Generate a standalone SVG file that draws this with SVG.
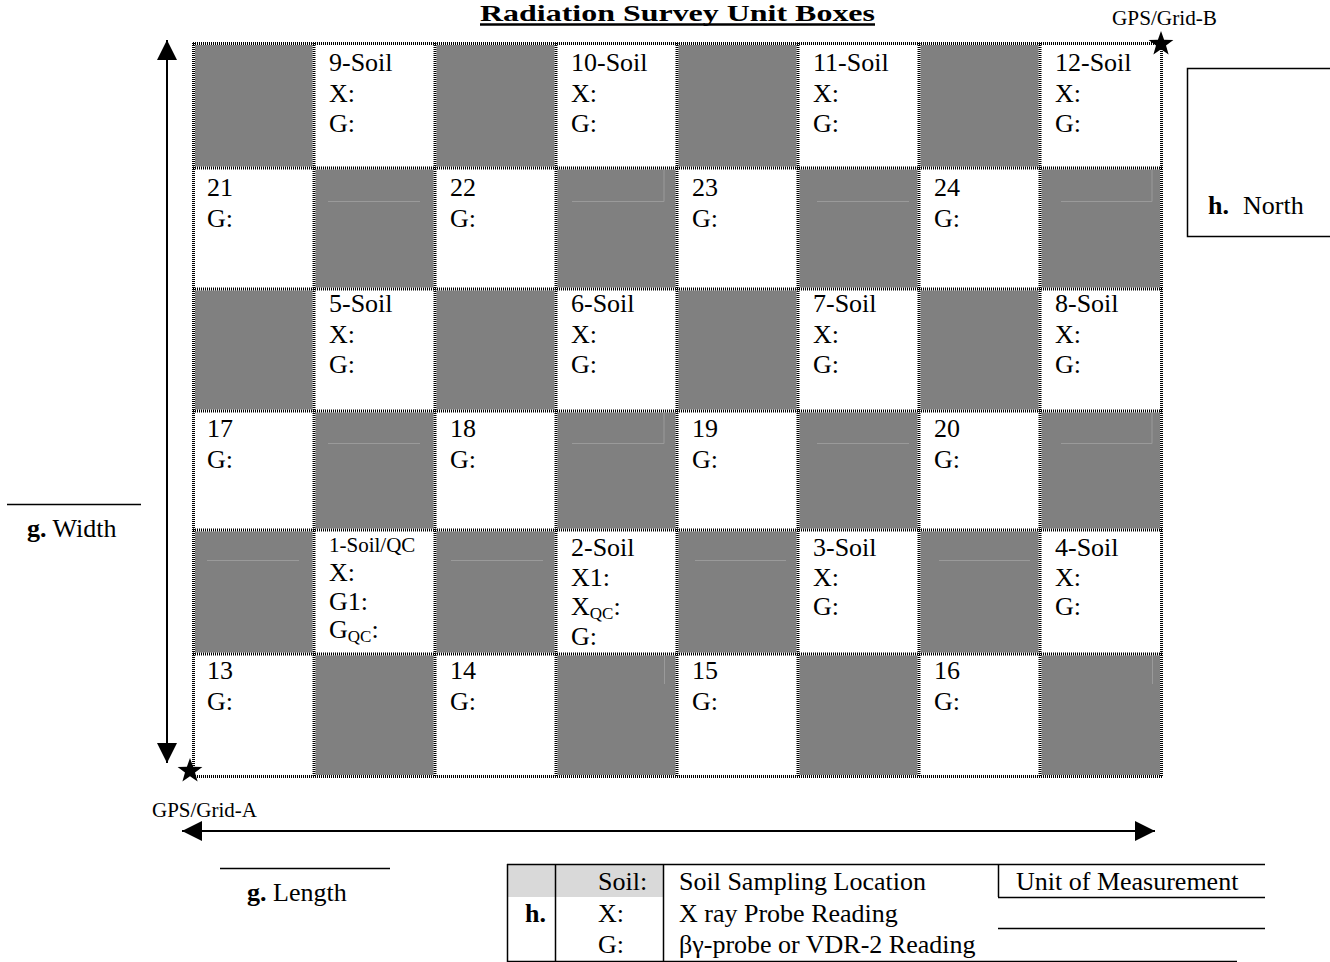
<svg xmlns="http://www.w3.org/2000/svg" width="1330" height="962" viewBox="0 0 1330 962">
<style>
text{font-family:"Liberation Serif","Times New Roman",serif;fill:#000}
.c{font-size:26px}
.sm{font-size:21px}
.sub{font-size:17px}
.lg{font-size:26px}
.b{font-weight:bold}
.gray{fill:#808080}
.art{stroke:#9a9a9a;stroke-width:1;fill:none}
.gridw{stroke:#fff;stroke-width:3;fill:none}
.gridd{stroke:#000;stroke-width:3;fill:none;stroke-dasharray:1 1}
.ln{stroke:#000;stroke-width:2;fill:none}
.thin{stroke:#000;stroke-width:1.5;fill:none}
</style>
<defs>
<marker id="ah" viewBox="0 0 20 20" refX="20" refY="10" markerWidth="20" markerHeight="20" markerUnits="userSpaceOnUse" orient="auto-start-reverse">
<path d="M0,0 L20,10 L0,20 Z" fill="#000"/>
</marker>
<path id="star" d="M0,-13 L3.1,-4.2 L12.4,-4 L5,1.6 L7.6,10.5 L0,5.2 L-7.6,10.5 L-5,1.6 L-12.4,-4 L-3.1,-4.2 Z" fill="#000"/>
</defs>
<rect width="1330" height="962" fill="#fff"/>

<g id="title">
<text x="480" y="21" font-size="23" class="b" textLength="395" lengthAdjust="spacingAndGlyphs">Radiation Survey Unit Boxes</text>
<line x1="480" y1="24.5" x2="875" y2="24.5" stroke="#000" stroke-width="2.5"/>
</g>

<g id="grid-cells">
<rect class="gray" x="193" y="43" width="121" height="125"/>
<rect class="gray" x="435" y="43" width="121" height="125"/>
<rect class="gray" x="677" y="43" width="121" height="125"/>
<rect class="gray" x="919" y="43" width="121" height="125"/>
<rect class="gray" x="314" y="168" width="121" height="121"/>
<rect class="gray" x="556" y="168" width="121" height="121"/>
<rect class="gray" x="798" y="168" width="121" height="121"/>
<rect class="gray" x="1040" y="168" width="122" height="121"/>
<rect class="gray" x="193" y="289" width="121" height="122"/>
<rect class="gray" x="435" y="289" width="121" height="122"/>
<rect class="gray" x="677" y="289" width="121" height="122"/>
<rect class="gray" x="919" y="289" width="121" height="122"/>
<rect class="gray" x="314" y="411" width="121" height="119"/>
<rect class="gray" x="556" y="411" width="121" height="119"/>
<rect class="gray" x="798" y="411" width="121" height="119"/>
<rect class="gray" x="1040" y="411" width="122" height="119"/>
<rect class="gray" x="193" y="530" width="121" height="124"/>
<rect class="gray" x="435" y="530" width="121" height="124"/>
<rect class="gray" x="677" y="530" width="121" height="124"/>
<rect class="gray" x="919" y="530" width="121" height="124"/>
<rect class="gray" x="314" y="654" width="121" height="123"/>
<rect class="gray" x="556" y="654" width="121" height="123"/>
<rect class="gray" x="798" y="654" width="121" height="123"/>
<rect class="gray" x="1040" y="654" width="122" height="123"/>
<path class="art" d="M328,201.5H420 M572,201.5H664V170 M817,201.5H909 M1061,201.5H1152V170 M328,443.5H420 M572,443.5H664V413 M817,443.5H909 M1061,443.5H1152V413 M207,560.5H299 M451,560.5H543 M695,560.5H786 M939,560.5H1030 M664.5,656V684 M1152.5,656V684"/>
</g>

<g id="grid-lines">
<path class="gridw" d="M193,43.5H1162 M193,168H1162 M193,289H1162 M193,411H1162 M193,530H1162 M193,654H1162 M193,776.5H1162 M193.5,43V777 M314,43V777 M435,43V777 M556,43V777 M677,43V777 M798,43V777 M919,43V777 M1040,43V777 M1161.5,43V777"/>
<path class="gridd" d="M193,43.5H1162 M193,168H1162 M193,289H1162 M193,411H1162 M193,530H1162 M193,654H1162 M193,776.5H1162 M193.5,43V777 M314,43V777 M435,43V777 M556,43V777 M677,43V777 M798,43V777 M919,43V777 M1040,43V777 M1161.5,43V777"/>
</g>

<g id="cell-9"><text class="c" x="329" y="71">9-Soil</text><text class="c" x="329" y="102">X:</text><text class="c" x="329" y="132">G:</text></g>
<g id="cell-10"><text class="c" x="571" y="71">10-Soil</text><text class="c" x="571" y="102">X:</text><text class="c" x="571" y="132">G:</text></g>
<g id="cell-11"><text class="c" x="813" y="71">11-Soil</text><text class="c" x="813" y="102">X:</text><text class="c" x="813" y="132">G:</text></g>
<g id="cell-12"><text class="c" x="1055" y="71">12-Soil</text><text class="c" x="1055" y="102">X:</text><text class="c" x="1055" y="132">G:</text></g>

<g id="cell-21"><text class="c" x="207" y="196">21</text><text class="c" x="207" y="227">G:</text></g>
<g id="cell-22"><text class="c" x="450" y="196">22</text><text class="c" x="450" y="227">G:</text></g>
<g id="cell-23"><text class="c" x="692" y="196">23</text><text class="c" x="692" y="227">G:</text></g>
<g id="cell-24"><text class="c" x="934" y="196">24</text><text class="c" x="934" y="227">G:</text></g>

<g id="cell-5"><text class="c" x="329" y="312">5-Soil</text><text class="c" x="329" y="343">X:</text><text class="c" x="329" y="373">G:</text></g>
<g id="cell-6"><text class="c" x="571" y="312">6-Soil</text><text class="c" x="571" y="343">X:</text><text class="c" x="571" y="373">G:</text></g>
<g id="cell-7"><text class="c" x="813" y="312">7-Soil</text><text class="c" x="813" y="343">X:</text><text class="c" x="813" y="373">G:</text></g>
<g id="cell-8"><text class="c" x="1055" y="312">8-Soil</text><text class="c" x="1055" y="343">X:</text><text class="c" x="1055" y="373">G:</text></g>

<g id="cell-17"><text class="c" x="207" y="437">17</text><text class="c" x="207" y="468">G:</text></g>
<g id="cell-18"><text class="c" x="450" y="437">18</text><text class="c" x="450" y="468">G:</text></g>
<g id="cell-19"><text class="c" x="692" y="437">19</text><text class="c" x="692" y="468">G:</text></g>
<g id="cell-20"><text class="c" x="934" y="437">20</text><text class="c" x="934" y="468">G:</text></g>

<g id="cell-1"><text class="sm" x="329" y="552">1-Soil/QC</text><text class="c" x="329" y="581">X:</text><text class="c" x="329" y="610">G1:</text><text class="c" x="329" y="638">G<tspan class="sub" dy="4">QC</tspan><tspan dy="-4">:</tspan></text></g>
<g id="cell-2"><text class="c" x="571" y="556">2-Soil</text><text class="c" x="571" y="586">X1:</text><text class="c" x="571" y="615">X<tspan class="sub" dy="4">QC</tspan><tspan dy="-4">:</tspan></text><text class="c" x="571" y="645">G:</text></g>
<g id="cell-3"><text class="c" x="813" y="556">3-Soil</text><text class="c" x="813" y="586">X:</text><text class="c" x="813" y="615">G:</text></g>
<g id="cell-4"><text class="c" x="1055" y="556">4-Soil</text><text class="c" x="1055" y="586">X:</text><text class="c" x="1055" y="615">G:</text></g>

<g id="cell-13"><text class="c" x="207" y="679">13</text><text class="c" x="207" y="710">G:</text></g>
<g id="cell-14"><text class="c" x="450" y="679">14</text><text class="c" x="450" y="710">G:</text></g>
<g id="cell-15"><text class="c" x="692" y="679">15</text><text class="c" x="692" y="710">G:</text></g>
<g id="cell-16"><text class="c" x="934" y="679">16</text><text class="c" x="934" y="710">G:</text></g>

<g id="gps-a">
<use href="#star" x="190" y="771"/>
<text x="152" y="817" font-size="20" textLength="105" lengthAdjust="spacingAndGlyphs">GPS/Grid-A</text>
</g>
<g id="gps-b">
<use href="#star" x="1161" y="44"/>
<text x="1112" y="25" font-size="20" textLength="105" lengthAdjust="spacingAndGlyphs">GPS/Grid-B</text>
</g>

<g id="north">
<rect x="1187.5" y="68.5" width="150" height="168" fill="none" stroke="#000" stroke-width="1.5"/>
<text x="1208" y="214" class="lg"><tspan class="b">h.</tspan><tspan x="1243">North</tspan></text>
</g>

<g id="width-label">
<line x1="7" y1="504.5" x2="141" y2="504.5" class="thin"/>
<text x="27" y="537" class="lg"><tspan class="b">g.</tspan> Width</text>
</g>

<g id="length-label">
<line x1="220" y1="868.5" x2="390" y2="868.5" class="thin"/>
<text x="247" y="901" class="lg"><tspan class="b">g.</tspan> Length</text>
</g>

<g id="connectors">
<line class="ln" x1="167" y1="40" x2="167" y2="763" marker-start="url(#ah)" marker-end="url(#ah)"/>
<line class="ln" x1="182" y1="831" x2="1155" y2="831" marker-start="url(#ah)" marker-end="url(#ah)"/>
</g>

<g id="legend">
<rect x="508" y="865" width="155" height="32" fill="#d9d9d9"/>
<path class="thin" d="M507,864.5H1265 M507.5,864V962 M555.5,864V962 M663.5,864V962 M507,961.5H1237 M998.5,864V897 M998,897.5H1265 M998,928.5H1265"/>
<text x="598" y="890" class="lg">Soil:</text>
<text x="679" y="890" class="lg">Soil Sampling Location</text>
<text x="1016" y="890" class="lg">Unit of Measurement</text>
<text x="525" y="922" class="lg b">h.</text>
<text x="598" y="922" class="lg">X:</text>
<text x="679" y="922" class="lg">X ray Probe Reading</text>
<text x="598" y="953" class="lg">G:</text>
<text x="679" y="953" class="lg">βγ-probe or VDR-2 Reading</text>
</g>
</svg>
